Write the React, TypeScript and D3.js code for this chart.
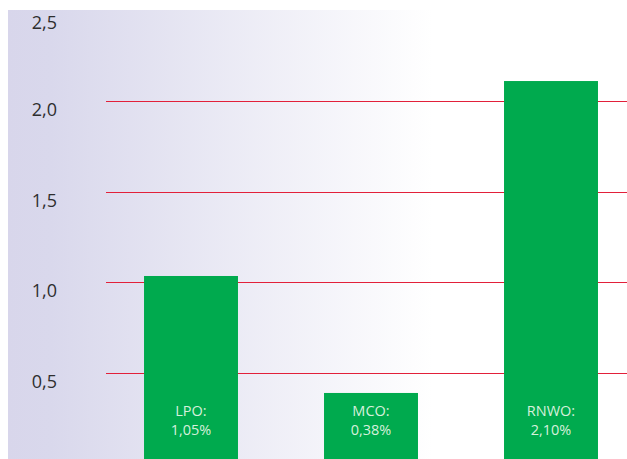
import React from "react";
import * as d3 from "d3";

const categories = ["LPO", "MCO", "RNWO"];
const values = [1.035, 0.39, 2.11];
const valueLabels = ["1,05%", "0,38%", "2,10%"];
const yTicks = [0.5, 1.0, 1.5, 2.0, 2.5];
const gridTicks = [0.5, 1.0, 1.5, 2.0];

const W = 627;
const H = 459;

export default function App() {
  const y = d3.scaleLinear().domain([0, 2.5]).range([463.7, 10.3]);
  const x = d3
    .scaleBand<string>()
    .domain(categories)
    .range([101, 641])
    .paddingInner(0.478)
    .paddingOuter(0.239);
  const fmt = (v: number) => d3.format(".1f")(v).replace(".", ",");
  const font = "'Open Sans', 'Noto Sans', sans-serif";
  return (
    <svg
      width={W}
      height={H}
      style={{ position: "absolute", left: 0, top: 0, display: "block" }}
    >
      <defs>
        <linearGradient id="bg" x1="0" x2="1" y1="0" y2="0">
          <stop offset="0" stopColor="#d8d6eb" />
          <stop offset="0.1" stopColor="#d9d8ec" />
          <stop offset="1" stopColor="#ffffff" />
        </linearGradient>
      </defs>
      <rect x={0} y={0} width={W} height={H} fill="#ffffff" />
      <rect x={8} y={10} width={425} height={H - 10} fill="url(#bg)" />
      {gridTicks.map((t) => (
        <line
          key={t}
          x1={106}
          x2={W}
          y1={Math.round(y(t)) + 0.5}
          y2={Math.round(y(t)) + 0.5}
          stroke="#e2203a"
          strokeWidth={1}
        />
      ))}
      {yTicks.map((t) => (
        <text
          key={t}
          x={57}
          y={y(t) + 15 + (t === 2.5 ? 4 : 0)}
          textAnchor="end"
          fontFamily={font}
          fontSize={18}
          fill="#2e2e2e"
        >
          {fmt(t)}
        </text>
      ))}
      {categories.map((c, i) => {
        const bx = x(c)!;
        const cx = bx + x.bandwidth() / 2;
        return (
          <g key={c}>
            <rect
              x={bx}
              y={y(values[i])}
              width={x.bandwidth()}
              height={y(0) - y(values[i])}
              fill="#00aa4e"
            />
            <text
              x={cx}
              y={415.5}
              textAnchor="middle"
              fontFamily={font}
              fontSize={14.5}
              fill="#d6f0dc"
            >
              {c + ":"}
            </text>
            <text
              x={cx}
              y={435}
              textAnchor="middle"
              fontFamily={font}
              fontSize={14.5}
              fill="#d6f0dc"
            >
              {valueLabels[i]}
            </text>
          </g>
        );
      })}
    </svg>
  );
}
